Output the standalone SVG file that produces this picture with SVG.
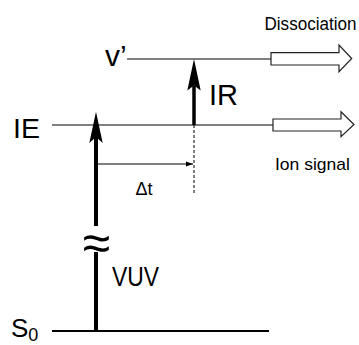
<svg xmlns="http://www.w3.org/2000/svg" width="359" height="345" viewBox="0 0 359 345">
<style>
.t{font-family:"Liberation Sans",Arial,sans-serif;fill:#000}
.lvl{stroke:#000;stroke-width:1.2;fill:none}
.hollow{fill:#fff;stroke:#222;stroke-width:1.2;stroke-linejoin:miter}
.shaft{stroke:#000;fill:none}
</style>
<defs>
<marker id="small" markerWidth="8" markerHeight="6" refX="7" refY="3" orient="auto" markerUnits="userSpaceOnUse">
<path d="M0,0.5 L7,3 L0,5.5 Z" fill="#000"/>
</marker>
</defs>
<rect width="359" height="345" fill="#fff"/>
<g id="level-vprime">
<line class="lvl" x1="127" y1="59" x2="271" y2="59"/>
<text class="t" x="105" y="66" font-size="30">v’</text>
</g>
<g id="level-IE">
<line class="lvl" x1="52" y1="125" x2="273" y2="125"/>
<text class="t" x="13" y="137.5" font-size="28.5">IE</text>
</g>
<g id="level-S0">
<line class="shaft" x1="52" y1="331" x2="269" y2="331" stroke-width="2"/>
<text class="t" x="11" y="337" font-size="26">S<tspan font-size="18" dy="4">0</tspan></text>
</g>
<g id="dissociation">
<polygon class="hollow" points="271,52.7 339,52.7 339,45 351.7,58.5 339,71.7 339,65 271,65"/>
<text class="t" x="264.5" y="29.5" font-size="17.5" textLength="92" lengthAdjust="spacingAndGlyphs">Dissociation</text>
</g>
<g id="ion-signal">
<polygon class="hollow" points="273,119 341,119 341,111.7 354,124.5 341,136.7 341,131 273,131"/>
<text class="t" x="275" y="170" font-size="17" textLength="75" lengthAdjust="spacingAndGlyphs">Ion signal</text>
</g>
<g id="connectors">
<g id="vuv-arrow">
<line class="shaft" x1="96" y1="137" x2="96" y2="226" stroke-width="4"/>
<line class="shaft" x1="96" y1="252" x2="96" y2="331" stroke-width="4"/>
<path d="M96,111.7 L102.7,143 L96,137 L89.3,143 Z" fill="#000"/>
<text class="t" x="96.5" y="260" font-size="50" text-anchor="middle">≈</text>
<text class="t" x="112" y="286" font-size="28" textLength="47" lengthAdjust="spacingAndGlyphs">VUV</text>
</g>
<g id="ir-arrow">
<line class="shaft" x1="194" y1="86" x2="194" y2="125" stroke-width="3.5"/>
<path d="M194,59 L200.7,90.5 L194,85.5 L187.3,90.5 Z" fill="#000"/>
<text class="t" x="209" y="105" font-size="29">IR</text>
</g>
<g id="delay">
<line class="shaft" x1="97" y1="164" x2="193" y2="164" stroke-width="1.2" marker-end="url(#small)"/>
<line class="shaft" x1="194" y1="125" x2="194" y2="194" stroke-width="1" stroke-dasharray="3,2"/>
<text class="t" x="135.5" y="195" font-size="18">Δt</text>
</g>
</g>
</svg>
